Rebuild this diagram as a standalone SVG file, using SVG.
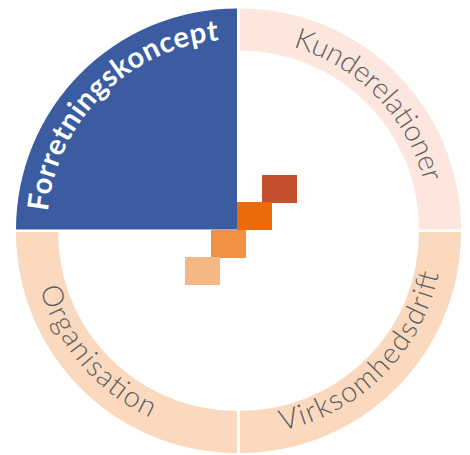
<svg xmlns="http://www.w3.org/2000/svg" width="470" height="455" viewBox="0 0 470 455">
<style>
.lbl{font-family:Lato,"Noto Sans",sans-serif;font-size:29px;font-weight:300;fill:#606060}
.main{font-family:Lato,"Noto Sans",sans-serif;font-size:29px;font-weight:700;fill:#ffffff}
</style>
<defs>
<path id="pF" d="M47,229.5 A190,190 0 0 1 237,39.5"/>
<path id="pK" d="M240,39.5 A190,190 0 0 1 430,229.5"/>
<path id="pO" d="M32,232 A205,205 0 0 0 237,437"/>
<path id="pV" d="M240,435 A203,203 0 0 0 443,232"/>
</defs>
<g id="forretningskoncept">
<path d="M237,229.5 L16,229.5 A221,221 0 0 1 237,8.5 Z" fill="#3b5ca1"/>
<text class="main"><textPath href="#pF" startOffset="50%" text-anchor="middle" textLength="262">Forretningskoncept</textPath></text>
</g>
<g id="kunderelationer">
<path d="M240,8.5 A221,221 0 0 1 461,229.5 L419,229.5 A179,179 0 0 0 240,50.5 Z" fill="#fce6dd"/>
<text class="lbl"><textPath href="#pK" startOffset="51%" text-anchor="middle" textLength="197">Kunderelationer</textPath></text>
</g>
<g id="organisation">
<path d="M16,232 A221,221 0 0 0 237,453 L237,411 A179,179 0 0 1 58,232 Z" fill="#fad9bf"/>
<text class="lbl"><textPath href="#pO" startOffset="45%" text-anchor="middle" textLength="175">Organisation</textPath></text>
</g>
<g id="virksomhedsdrift">
<path d="M240,453 A221,221 0 0 0 461,232 L419,232 A179,179 0 0 1 240,411 Z" fill="#fad9bf"/>
<text class="lbl"><textPath href="#pV" startOffset="50%" text-anchor="middle" textLength="234">Virksomhedsdrift</textPath></text>
</g>
<g id="steps">
<rect x="262" y="175" width="35" height="28" fill="#c5502f"/>
<rect x="237" y="202" width="35" height="28" fill="#ec6a09"/>
<rect x="211" y="230" width="35" height="28" fill="#f29044"/>
<rect x="185" y="257" width="35" height="28" fill="#f5b884"/>
</g>
</svg>
